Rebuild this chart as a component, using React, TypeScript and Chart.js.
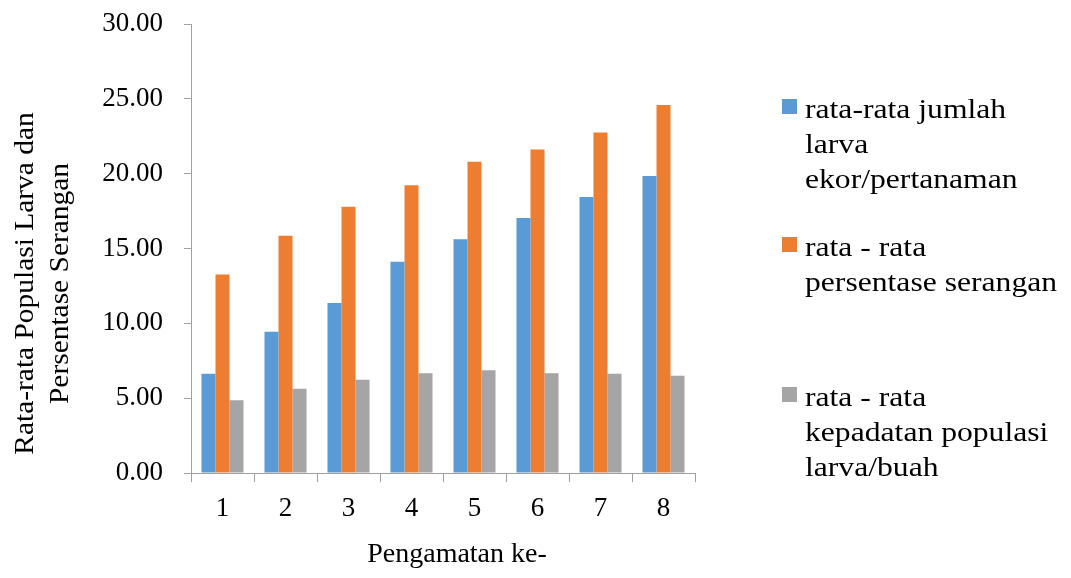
import React, { useEffect, useRef } from "react";
import { Chart, registerables } from "chart.js";

Chart.register(...registerables);

// Observation rounds (x-axis categories)
const categories = ["1", "2", "3", "4", "5", "6", "7", "8"];

// Average number of larvae per plant
const jumlahLarva = [6.63, 9.44, 11.36, 14.12, 15.61, 17.03, 18.44, 19.84];
// Average attack percentage
const persentaseSerangan = [13.27, 15.85, 17.79, 19.22, 20.8, 21.62, 22.75, 24.58];
// Average larval population density per fruit
const kepadatanPopulasi = [4.86, 5.63, 6.23, 6.66, 6.86, 6.66, 6.63, 6.5];

// Legend entries (wrapped lines) and series colours
const seriesLabels = [
  ["rata-rata jumlah", "larva", "ekor/pertanaman"],
  ["rata - rata", "persentase serangan"],
  ["rata - rata", "kepadatan populasi", "larva/buah"],
];
const seriesColors = ["#5B9BD5", "#ED7D31", "#A5A5A5"];

// Value axis range
const yMin = 0;
const yMax = 30;
const yStep = 5;

const xTitle = "Pengamatan ke-";
const yTitle = ["Rata-rata Populasi Larva dan", "Persentase Serangan"];

const FONT = "'Liberation Serif', 'Times New Roman', serif";
const AXIS_GRAY = "#A0A0A0";

// Axis titles and the wrapped legend drawn straight onto the canvas
const textLayer = {
  id: "textLayer",
  afterDraw(chart: any) {
    const { ctx, chartArea } = chart;
    ctx.save();
    ctx.fillStyle = "#000000";
    ctx.textBaseline = "alphabetic";

    // x-axis title
    ctx.font = `28px ${FONT}`;
    ctx.textAlign = "center";
    ctx.fillText(xTitle, (chartArea.left + chartArea.right) / 2 + 14, chartArea.bottom + 89);

    // y-axis title, two rotated lines
    ctx.font = `27px ${FONT}`;
    ctx.save();
    ctx.translate(0, (chartArea.top + chartArea.bottom) / 2 + 35);
    ctx.rotate(-Math.PI / 2);
    ctx.scale(1.09, 1);
    yTitle.forEach((line, i) => ctx.fillText(line, 0, 33 + i * 35));
    ctx.restore();

    // legend
    const markerX = chartArea.right + 87;
    const textX = markerX + 23;
    const itemTops = [99, 237, 387];
    const lineHeight = 35;
    const markerSize = 15;
    ctx.font = `28px ${FONT}`;
    ctx.textAlign = "left";
    seriesLabels.forEach((lines, i) => {
      const top = itemTops[i];
      ctx.fillStyle = seriesColors[i];
      ctx.fillRect(markerX, top, markerSize, markerSize);
      ctx.fillStyle = "#000000";
      lines.forEach((line, j) => {
        ctx.save();
        ctx.translate(textX, top + 18.5 + j * lineHeight);
        ctx.scale(1.13, 1);
        ctx.fillText(line, 0, 0);
        ctx.restore();
      });
    });
    ctx.restore();
  },
};

export default function App() {
  const canvasRef = useRef<HTMLCanvasElement | null>(null);

  useEffect(() => {
    const canvas = canvasRef.current;
    if (!canvas) return;
    const datasets = [jumlahLarva, persentaseSerangan, kepadatanPopulasi].map((data, i) => ({
      label: seriesLabels[i].join(" "),
      data,
      backgroundColor: seriesColors[i],
      borderWidth: 0,
      categoryPercentage: 0.667,
      barPercentage: 1.0,
    }));

    const chart = new Chart(canvas, {
      type: "bar",
      data: { labels: categories, datasets },
      plugins: [textLayer],
      options: {
        responsive: false,
        animation: false,
        devicePixelRatio: 1,
        layout: { padding: { left: 0, right: 376, top: 24, bottom: 0 } },
        plugins: {
          legend: { display: false },
          tooltip: { enabled: false },
        },
        scales: {
          x: {
            grid: {
              display: true,
              drawOnChartArea: false,
              drawTicks: true,
              tickLength: 9,
              color: AXIS_GRAY,
              offset: true,
            },
            border: { display: true, color: AXIS_GRAY, width: 1 },
            ticks: {
              color: "#000000",
              font: { family: FONT, size: 27 },
              padding: 11,
              maxRotation: 0,
            },
            afterFit: (scale: any) => {
              scale.height = 105;
            },
          },
          y: {
            min: yMin,
            max: yMax,
            grid: {
              display: true,
              drawOnChartArea: false,
              drawTicks: true,
              tickLength: 7,
              color: AXIS_GRAY,
            },
            border: { display: true, color: AXIS_GRAY, width: 1 },
            ticks: {
              stepSize: yStep,
              color: "#000000",
              font: { family: FONT, size: 27 },
              padding: 21,
              callback: (v: any) => Number(v).toFixed(2),
            },
            afterFit: (scale: any) => {
              scale.width = 191;
              // the outer layout padding already leaves room for the end labels
              scale.paddingTop = 0;
              scale.paddingBottom = 0;
            },
          },
        },
      },
    });
    return () => chart.destroy();
  }, []);

  return (
    <div style={{ position: "fixed", left: 0, top: 0, width: 1071, height: 578, background: "#ffffff" }}>
      <canvas ref={canvasRef} width={1071} height={578} style={{ display: "block" }} />
    </div>
  );
}
